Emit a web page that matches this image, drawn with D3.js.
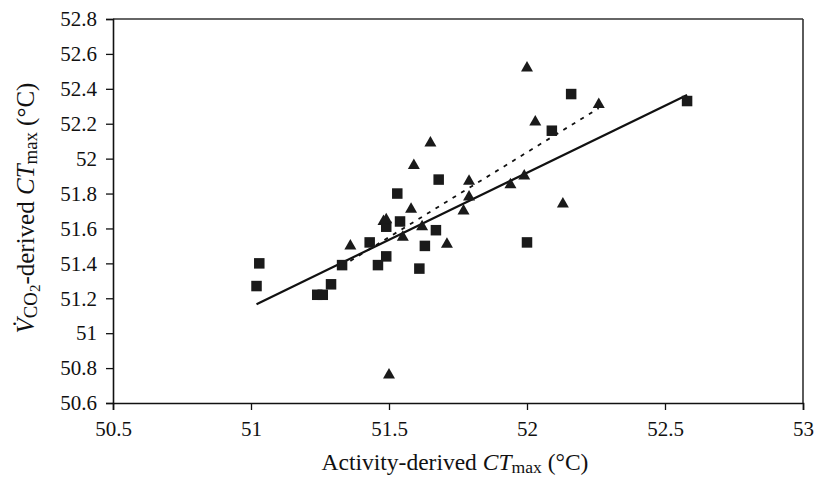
<!DOCTYPE html>
<html><head><meta charset="utf-8">
<script src="https://cdn.jsdelivr.net/npm/d3@7"></script>
<style>body{margin:0;background:#fff;} svg{display:block;}</style>
</head><body>
<svg id="chart" width="828" height="477"></svg>
<script>
// Data
const squareX = [51.02, 51.03, 51.24, 51.26, 51.29, 51.33, 51.43, 51.46, 51.49, 51.49, 51.54, 51.53, 51.63, 51.61, 51.67, 51.68, 52.00, 52.09, 52.16, 52.58];
const squareY = [51.27, 51.40, 51.22, 51.22, 51.28, 51.39, 51.52, 51.39, 51.44, 51.61, 51.64, 51.80, 51.50, 51.37, 51.59, 51.88, 51.52, 52.16, 52.37, 52.33];
const triangleX = [51.36, 51.48, 51.49, 51.55, 51.58, 51.59, 51.62, 51.65, 51.71, 51.77, 51.79, 51.79, 51.94, 51.99, 52.00, 52.03, 52.13, 52.26, 51.50];
const triangleY = [51.51, 51.65, 51.66, 51.56, 51.72, 51.97, 51.62, 52.10, 51.52, 51.71, 51.79, 51.88, 51.86, 51.91, 52.53, 52.22, 51.75, 52.32, 50.77];
const solidLineX = [51.02, 52.58];
const solidLineY = [51.166, 52.365];
const dashedLineX = [51.36, 52.26];
const dashedLineY = [51.414, 52.289];
const xTicks = [50.5, 51, 51.5, 52, 52.5, 53];
const yTicks = [50.6, 50.8, 51, 51.2, 51.4, 51.6, 51.8, 52, 52.2, 52.4, 52.6, 52.8];

const svg = d3.select("#chart");
const L = 113, R = 803, T = 19, B = 403;
const x = d3.scaleLinear().domain([50.5, 53]).range([L, R]);
const y = d3.scaleLinear().domain([50.6, 52.8]).range([B, T]);
const font = "'Liberation Serif', 'Times New Roman', serif";
const fs = 21;
const tfs = 23.5;
const yfs = 25;

// frame top/right
svg.append("line").attr("x1", L).attr("x2", R).attr("y1", T).attr("y2", T)
  .attr("stroke", "#333").attr("stroke-width", 1.6);
svg.append("line").attr("x1", R).attr("x2", R).attr("y1", T).attr("y2", B)
  .attr("stroke", "#333").attr("stroke-width", 1.6);

// axes
const fmt = d => String(+d.toFixed(1));
const xAxis = svg.append("g").attr("transform", `translate(0,${B})`)
  .call(d3.axisBottom(x).tickValues(xTicks).tickFormat(fmt).tickSize(7).tickPadding(11));
const yAxis = svg.append("g").attr("transform", `translate(${L},0)`)
  .call(d3.axisLeft(y).tickValues(yTicks).tickFormat(fmt).tickSize(7).tickPadding(9));
[xAxis, yAxis].forEach(g => {
  g.select(".domain").attr("stroke", "#111").attr("stroke-width", 1.6);
  g.selectAll(".tick line").attr("stroke", "#111").attr("stroke-width", 1.3);
  g.selectAll("text").attr("font-family", font).attr("font-size", fs).attr("fill", "#111");
});

// regression lines
const line = d3.line().x(d => x(d[0])).y(d => y(d[1]));
svg.append("path").datum(solidLineX.map((v, i) => [v, solidLineY[i]]))
  .attr("d", line).attr("fill", "none").attr("stroke", "#111").attr("stroke-width", 2.2);
svg.append("path").datum(dashedLineX.map((v, i) => [v, dashedLineY[i]]))
  .attr("d", line).attr("fill", "none").attr("stroke", "#111").attr("stroke-width", 1.8)
  .attr("stroke-dasharray", "4,6");

// markers
const sq = 10.5;
svg.append("g").selectAll("rect").data(squareX.map((v, i) => [v, squareY[i]])).join("rect")
  .attr("x", d => x(d[0]) - sq / 2).attr("y", d => y(d[1]) - sq / 2)
  .attr("width", sq).attr("height", sq).attr("fill", "#1a1a1a");
const tw = 12, th = 10.5;
svg.append("g").selectAll("path").data(triangleX.map((v, i) => [v, triangleY[i]])).join("path")
  .attr("d", d => {
    const cx = x(d[0]), cy = y(d[1]);
    return `M${cx},${cy - th / 2}L${cx + tw / 2},${cy + th / 2}L${cx - tw / 2},${cy + th / 2}Z`;
  }).attr("fill", "#1a1a1a");

// axis titles
const xt = svg.append("text").attr("x", 455).attr("y", 470)
  .attr("text-anchor", "middle").attr("font-family", font).attr("font-size", tfs).attr("fill", "#111");
xt.append("tspan").text("Activity-derived ");
xt.append("tspan").attr("font-style", "italic").text("CT");
xt.append("tspan").attr("font-size", tfs * 0.75).attr("dy", 3).text("max");
xt.append("tspan").attr("dy", -3).text(" (°C)");

const yt = svg.append("text").attr("transform", `translate(34,208)rotate(-90)`)
  .attr("text-anchor", "middle").attr("font-family", font).attr("font-size", yfs).attr("fill", "#111");
yt.append("tspan").attr("font-style", "italic").text("V\u0307");
yt.append("tspan").attr("font-size", yfs * 0.75).attr("dy", 3).text("CO");
yt.append("tspan").attr("font-size", yfs * 0.6).attr("dy", 3).text("2");
yt.append("tspan").attr("dy", -6).text("-derived ");
yt.append("tspan").attr("font-style", "italic").text("CT");
yt.append("tspan").attr("font-size", yfs * 0.75).attr("dy", 3).text("max");
yt.append("tspan").attr("dy", -3).text(" (°C)");
</script>
</body></html>
